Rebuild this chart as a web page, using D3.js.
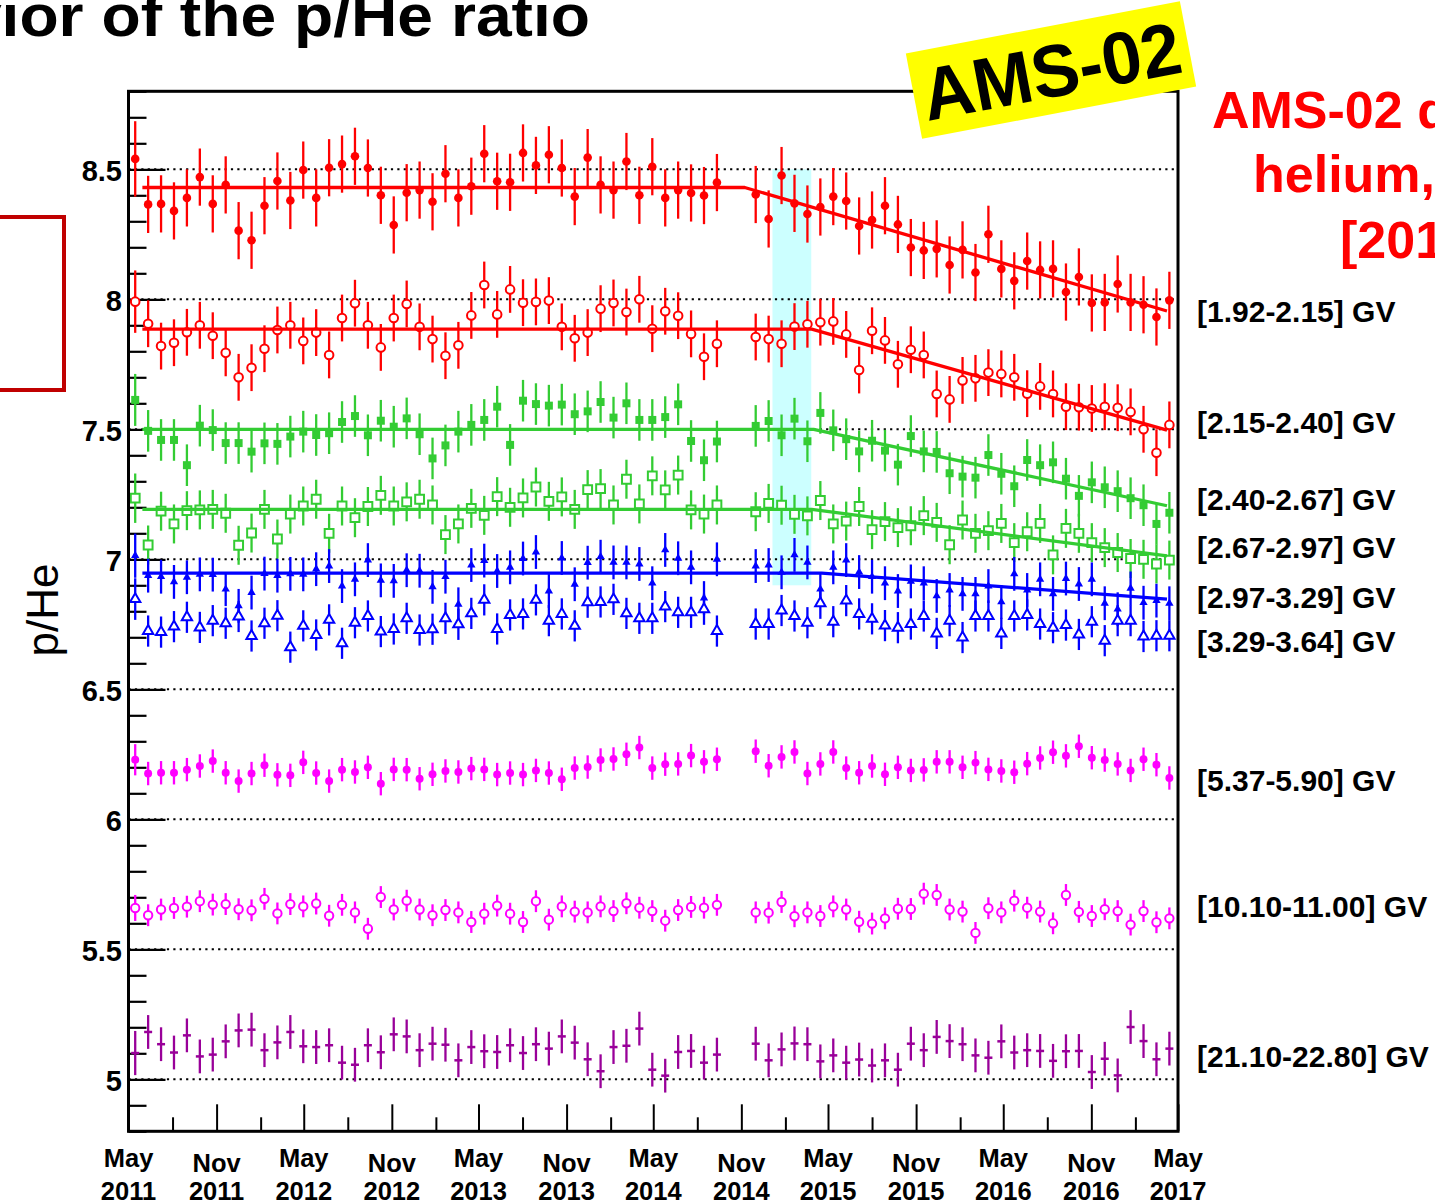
<!DOCTYPE html>
<html>
<head>
<meta charset="utf-8">
<script src="https://cdn.jsdelivr.net/npm/d3@7"></script>
<style>
  body { margin: 0; background: #fff; }
  svg { display: block; }
  text { font-family: "Liberation Sans", Arial, Helvetica, sans-serif; }
</style>
</head>
<body>
<svg id="chart" width="1435" height="1204"></svg>
<script>
// Bartels rotations with measurements (2472 and 2473 are missing)
const bartelsRotations = [
  2426, 2427, 2428, 2429, 2430, 2431, 2432, 2433, 2434, 2435,
  2436, 2437, 2438, 2439, 2440, 2441, 2442, 2443, 2444, 2445,
  2446, 2447, 2448, 2449, 2450, 2451, 2452, 2453, 2454, 2455,
  2456, 2457, 2458, 2459, 2460, 2461, 2462, 2463, 2464, 2465,
  2466, 2467, 2468, 2469, 2470, 2471,
  2474, 2475, 2476, 2477, 2478, 2479, 2480, 2481, 2482, 2483,
  2484, 2485, 2486, 2487, 2488, 2489, 2490, 2491, 2492, 2493,
  2494, 2495, 2496, 2497, 2498, 2499, 2500, 2501, 2502, 2503,
  2504, 2505, 2506
];

const rigidityBins = [
  "[1.92-2.15] GV", "[2.15-2.40] GV", "[2.40-2.67] GV", "[2.67-2.97] GV",
  "[2.97-3.29] GV", "[3.29-3.64] GV", "[5.37-5.90] GV", "[10.10-11.00] GV",
  "[21.10-22.80] GV"
];

// p/He ratio per Bartels rotation, one array per rigidity bin
const pHe_1_92 = [
  8.54, 8.365, 8.367, 8.34, 8.39, 8.47, 8.367, 8.44, 8.264, 8.227,
  8.36, 8.455, 8.38, 8.497, 8.39, 8.506, 8.52, 8.55, 8.505, 8.40,
  8.286, 8.41, 8.42, 8.375, 8.483, 8.39, 8.435, 8.56, 8.454, 8.45,
  8.563, 8.515, 8.556, 8.505, 8.395, 8.545, 8.44, 8.42, 8.53, 8.40,
  8.51, 8.39, 8.42, 8.409, 8.399, 8.449,
  8.403, 8.309, 8.476, 8.369, 8.328, 8.355, 8.395, 8.378, 8.282, 8.305,
  8.36, 8.288, 8.199, 8.188, 8.194, 8.132, 8.19, 8.103, 8.25, 8.117,
  8.071, 8.147, 8.113, 8.117, 8.028, 8.086, 7.986, 7.988, 8.059, 7.988,
  7.979, 7.932, 7.996
];
const pHe_2_15 = [
  7.991, 7.906, 7.82, 7.833, 7.873, 7.90, 7.86, 7.794, 7.70, 7.737,
  7.81, 7.882, 7.90, 7.84, 7.872, 7.786, 7.928, 7.985, 7.90, 7.815,
  7.928, 7.982, 7.894, 7.847, 7.783, 7.823, 7.938, 8.055, 7.942, 8.038,
  7.987, 7.99, 7.995, 7.894, 7.85, 7.872, 7.964, 7.986, 7.951, 8.0,
  7.887, 7.954, 7.937, 7.867, 7.779, 7.829,
  7.855, 7.847, 7.829, 7.895, 7.904, 7.912, 7.915, 7.865, 7.728, 7.879,
  7.842, 7.75, 7.806, 7.786, 7.636, 7.615, 7.688, 7.696, 7.718, 7.713,
  7.70, 7.637, 7.665, 7.636, 7.587, 7.585, 7.58, 7.587, 7.583, 7.567,
  7.50, 7.41, 7.517
];
const pHe_2_40 = [
  7.613, 7.494, 7.459, 7.459, 7.362, 7.514, 7.497, 7.447, 7.447, 7.414,
  7.446, 7.444, 7.472, 7.491, 7.478, 7.485, 7.528, 7.551, 7.477, 7.533,
  7.51, 7.542, 7.481, 7.388, 7.438, 7.491, 7.517, 7.536, 7.587, 7.44,
  7.61, 7.597, 7.591, 7.595, 7.558, 7.569, 7.605, 7.545, 7.60, 7.536,
  7.536, 7.547, 7.596, 7.455, 7.381, 7.453,
  7.513, 7.532, 7.477, 7.541, 7.454, 7.563, 7.496, 7.462, 7.415, 7.456,
  7.418, 7.364, 7.474, 7.415, 7.413, 7.331, 7.318, 7.314, 7.401, 7.329,
  7.281, 7.382, 7.362, 7.373, 7.31, 7.244, 7.296, 7.277, 7.262, 7.235,
  7.208, 7.136, 7.179
];
const pHe_2_67 = [
  7.235, 7.055, 7.185, 7.136, 7.187, 7.19, 7.192, 7.177, 7.054, 7.101,
  7.192, 7.078, 7.174, 7.205, 7.231, 7.10, 7.205, 7.16, 7.203, 7.246,
  7.205, 7.221, 7.231, 7.209, 7.095, 7.136, 7.196, 7.169, 7.241, 7.20,
  7.236, 7.278, 7.223, 7.24, 7.192, 7.268, 7.272, 7.209, 7.308, 7.213,
  7.321, 7.267, 7.324, 7.19, 7.174, 7.209,
  7.183, 7.215, 7.208, 7.173, 7.167, 7.226, 7.136, 7.147, 7.203, 7.114,
  7.145, 7.122, 7.129, 7.168, 7.142, 7.056, 7.151, 7.10, 7.11, 7.138,
  7.064, 7.106, 7.138, 7.017, 7.119, 7.10, 7.064, 7.045, 7.026, 7.003,
  7.0, 6.982, 6.997
];
const pHe_2_97 = [
  7.014, 6.937, 6.933, 6.913, 6.931, 6.942, 6.941, 6.885, 6.821, 6.872,
  6.945, 6.937, 6.944, 6.942, 6.962, 6.974, 6.897, 6.923, 6.997, 6.919,
  6.917, 6.958, 6.956, 6.894, 6.933, 6.827, 6.978, 6.995, 6.955, 6.969,
  7.003, 7.028, 6.878, 7.005, 6.904, 6.987, 7.01, 6.988, 6.988, 6.982,
  6.908, 7.036, 7.004, 6.969, 6.851, 7.0,
  6.974, 6.978, 6.95, 7.017, 6.988, 6.885, 6.969, 6.997, 6.951, 6.933,
  6.908, 6.878, 6.915, 6.908, 6.859, 6.882, 6.867, 6.867, 6.897, 6.836,
  6.944, 6.882, 6.923, 6.867, 6.926, 6.905, 6.923, 6.831, 6.808, 6.888,
  6.833, 6.841, 6.831
];
const pHe_3_29 = [
  6.847, 6.724, 6.72, 6.741, 6.777, 6.738, 6.764, 6.754, 6.78, 6.705,
  6.754, 6.783, 6.662, 6.744, 6.709, 6.767, 6.677, 6.756, 6.782, 6.722,
  6.732, 6.773, 6.728, 6.731, 6.773, 6.75, 6.792, 6.844, 6.732, 6.786,
  6.79, 6.844, 6.764, 6.79, 6.744, 6.835, 6.836, 6.846, 6.792, 6.773,
  6.773, 6.818, 6.796, 6.796, 6.808, 6.724,
  6.751, 6.751, 6.803, 6.782, 6.756, 6.831, 6.76, 6.841, 6.79, 6.771,
  6.745, 6.737, 6.751, 6.782, 6.715, 6.764, 6.699, 6.782, 6.782, 6.715,
  6.782, 6.786, 6.751, 6.737, 6.747, 6.711, 6.76, 6.687, 6.764, 6.764,
  6.703, 6.706, 6.706
];
const pHe_5_37 = [
  6.229, 6.176, 6.179, 6.179, 6.191, 6.205, 6.224, 6.179, 6.147, 6.176,
  6.208, 6.171, 6.169, 6.219, 6.178, 6.147, 6.191, 6.182, 6.20, 6.137,
  6.192, 6.191, 6.156, 6.173, 6.186, 6.182, 6.195, 6.192, 6.172, 6.178,
  6.172, 6.188, 6.178, 6.154, 6.197, 6.201, 6.228, 6.232, 6.25, 6.276,
  6.197, 6.212, 6.213, 6.245, 6.221, 6.231,
  6.262, 6.206, 6.24, 6.259, 6.176, 6.213, 6.259, 6.197, 6.179, 6.205,
  6.173, 6.20, 6.188, 6.19, 6.221, 6.221, 6.20, 6.218, 6.192, 6.186,
  6.181, 6.214, 6.236, 6.258, 6.244, 6.281, 6.237, 6.228, 6.213, 6.188,
  6.231, 6.21, 6.159
];
const pHe_10_10 = [
  5.659, 5.631, 5.653, 5.659, 5.664, 5.685, 5.672, 5.674, 5.654, 5.65,
  5.694, 5.638, 5.674, 5.665, 5.676, 5.629, 5.671, 5.642, 5.579, 5.701,
  5.653, 5.687, 5.653, 5.631, 5.651, 5.642, 5.605, 5.637, 5.668, 5.637,
  5.605, 5.685, 5.614, 5.665, 5.645, 5.642, 5.665, 5.647, 5.677, 5.66,
  5.647, 5.61, 5.651, 5.663, 5.66, 5.671,
  5.642, 5.641, 5.682, 5.627, 5.642, 5.628, 5.665, 5.653, 5.606, 5.599,
  5.619, 5.656, 5.655, 5.714, 5.709, 5.653, 5.645, 5.563, 5.658, 5.642,
  5.687, 5.66, 5.645, 5.60, 5.709, 5.644, 5.628, 5.654, 5.647, 5.595,
  5.647, 5.604, 5.619
];
const pHe_21_10 = [
  5.101, 5.182, 5.135, 5.103, 5.169, 5.088, 5.095, 5.146, 5.188, 5.191,
  5.112, 5.142, 5.182, 5.127, 5.124, 5.131, 5.064, 5.056, 5.131, 5.104,
  5.173, 5.165, 5.112, 5.137, 5.133, 5.073, 5.124, 5.108, 5.105, 5.131,
  5.101, 5.135, 5.118, 5.165, 5.141, 5.077, 5.031, 5.124, 5.129, 5.195,
  5.037, 5.014, 5.105, 5.109, 5.064, 5.095,
  5.137, 5.073, 5.115, 5.138, 5.135, 5.069, 5.092, 5.064, 5.076, 5.053,
  5.073, 5.037, 5.137, 5.112, 5.163, 5.147, 5.135, 5.092, 5.083, 5.146,
  5.103, 5.112, 5.109, 5.071, 5.108, 5.109, 5.028, 5.079, 5.015, 5.201,
  5.147, 5.077, 5.118
];

// Half-width of the error bars: first rotation, then all later rotations
const firstRotationErrors = [0.145, 0.12, 0.10, 0.095, 0.085, 0.08, 0.06, 0.05, 0.085];
const typicalErrors       = [0.11, 0.09, 0.08, 0.075, 0.065, 0.06, 0.045, 0.042, 0.065];

// Fits for the five lowest bins: plateau, start of the decrease, final value
const fitPlateau    = [8.43, 7.885, 7.50, 7.192, 6.947];
const fitBreakDates = ["2014-11-08", "2015-03-28", "2015-04-01", "2015-03-28", "2015-04-18"];
const fitEndValues  = [7.955, 7.497, 7.206, 7.013, 6.847];
const fitRange      = ["2011-05-30", "2017-04-08"];

// Highlighted period and its p/He extent
const bandDates  = ["2015-01-05", "2015-03-27"];
const bandValues = [6.9, 8.5];

// Axis ranges and ticks
const timeDomain = ["2011-05-01", "2017-05-01"];
const yDomain = [4.8, 8.8];
const yMajorTicks = [5, 5.5, 6, 6.5, 7, 7.5, 8, 8.5];

const seriesValues = [pHe_1_92, pHe_2_15, pHe_2_40, pHe_2_67, pHe_2_97, pHe_3_29, pHe_5_37, pHe_10_10, pHe_21_10];

// ---------------------------------------------------------------- drawing
const parseDate = d3.utcParse("%Y-%m-%d");
const bartelsStart = n => new Date(Date.UTC(1832, 1, 8) + (n - 1) * 27 * 864e5);

const frame = { left: 128.5, right: 1178, top: 91.3, bottom: 1131.3 };
const svg = d3.select("#chart");
svg.append("rect").attr("width", 1435).attr("height", 1204).attr("fill", "#fff");

const x = d3.scaleUtc().domain(timeDomain.map(parseDate)).range([frame.left, frame.right]);
const y = d3.scaleLinear().domain(yDomain).range([frame.bottom, frame.top]);

const styles = [
  { color: "#ff0000", shape: d3.symbolCircle,   size: 58, open: false },
  { color: "#ff0000", shape: d3.symbolCircle,   size: 58, open: true },
  { color: "#33cc33", shape: d3.symbolSquare,   size: 64, open: false },
  { color: "#33cc33", shape: d3.symbolSquare,   size: 78, open: true },
  { color: "#0000ff", shape: d3.symbolTriangle, size: 30, open: false },
  { color: "#0000ff", shape: d3.symbolTriangle, size: 46, open: true },
  { color: "#ff00ff", shape: d3.symbolCircle,   size: 50, open: false },
  { color: "#ff00ff", shape: d3.symbolCircle,   size: 55, open: true },
  { color: "#990099", shape: null,              size: 0,  open: false }
];

// highlighted period
svg.append("rect")
  .attr("x", x(parseDate(bandDates[0])))
  .attr("y", y(bandValues[1]))
  .attr("width", x(parseDate(bandDates[1])) - x(parseDate(bandDates[0])))
  .attr("height", y(bandValues[0]) - y(bandValues[1]))
  .attr("fill", "#ccffff");

// dotted grid at the labelled values
svg.append("g").selectAll("line").data(yMajorTicks).join("line")
  .attr("x1", frame.left).attr("x2", frame.right)
  .attr("y1", d => y(d)).attr("y2", d => y(d))
  .attr("stroke", "#000").attr("stroke-width", 2)
  .attr("stroke-dasharray", "2.2,4.2");

// y axis ticks (drawn inside the frame)
const yMinor = d3.range(48, 89).map(v => v / 10).filter(v => Math.abs(v * 2 - Math.round(v * 2)) > 1e-6);
const yTicksMajor = svg.append("g").attr("transform", `translate(${frame.left},0)`)
  .call(d3.axisRight(y).tickValues(yMajorTicks).tickSize(37).tickFormat(""));
const yTicksMinor = svg.append("g").attr("transform", `translate(${frame.left},0)`)
  .call(d3.axisRight(y).tickValues(yMinor).tickSize(18).tickFormat(""));
[yTicksMajor, yTicksMinor].forEach(g => {
  g.select(".domain").remove();
  g.selectAll(".tick line").attr("stroke", "#000").attr("stroke-width", 2.2);
});

// y tick labels
const yLabels = svg.append("g").attr("transform", `translate(${frame.left},0)`)
  .call(d3.axisLeft(y).tickValues(yMajorTicks).tickSize(0).tickPadding(6.5).tickFormat(d3.format("")));
yLabels.select(".domain").remove();
yLabels.selectAll(".tick text")
  .attr("font-family", "'Liberation Sans', Arial, sans-serif")
  .attr("font-size", 29).attr("font-weight", "bold").attr("fill", "#000")
  .attr("dy", "0.4em");

// x axis ticks (every six months, minor every three)
const months = d3.utcMonths(parseDate(timeDomain[0]), d3.utcDay.offset(parseDate(timeDomain[1]), 1));
const xMajor = months.filter((d, i) => i % 6 === 0);
const xMinor = months.filter((d, i) => i % 3 === 0 && i % 6 !== 0);
const xTicksMajor = svg.append("g").attr("transform", `translate(0,${frame.bottom})`)
  .call(d3.axisTop(x).tickValues(xMajor).tickSize(27).tickFormat(""));
const xTicksMinor = svg.append("g").attr("transform", `translate(0,${frame.bottom})`)
  .call(d3.axisTop(x).tickValues(xMinor).tickSize(14).tickFormat(""));
[xTicksMajor, xTicksMinor].forEach(g => {
  g.select(".domain").remove();
  g.selectAll(".tick line").attr("stroke", "#000").attr("stroke-width", 2);
});

// two-line date labels
const fmtMonth = d3.utcFormat("%b"), fmtYear = d3.utcFormat("%Y");
const xLab = svg.append("g").selectAll("g").data(xMajor).join("g")
  .attr("transform", d => `translate(${x(d)},0)`);
xLab.append("text")
  .attr("y", d => fmtMonth(d) === "May" ? 1167 : 1172)
  .attr("text-anchor", "middle").attr("font-size", 25.5).attr("font-weight", "bold")
  .text(d => fmtMonth(d));
xLab.append("text")
  .attr("y", 1200)
  .attr("text-anchor", "middle").attr("font-size", 25.5).attr("font-weight", "bold")
  .text(d => fmtYear(d));

// data points with error bars
const xs = bartelsRotations.map(bartelsStart);
seriesValues.forEach((vals, s) => {
  const st = styles[s];
  const pts = vals.map((v, i) => ({
    t: xs[i], v,
    e: i === 0 ? firstRotationErrors[s] : typicalErrors[s]
  }));
  const g = svg.append("g");
  g.selectAll("line.err").data(pts).join("line").attr("class", "err")
    .attr("x1", d => x(d.t)).attr("x2", d => x(d.t))
    .attr("y1", d => y(d.v - d.e)).attr("y2", d => y(d.v + d.e))
    .attr("stroke", st.color).attr("stroke-width", 2.3);
  if (st.shape) {
    g.selectAll("path.mk").data(pts).join("path").attr("class", "mk")
      .attr("transform", d => `translate(${x(d.t)},${y(d.v)})`)
      .attr("d", d3.symbol(st.shape, st.size))
      .attr("fill", st.open ? "#fff" : st.color)
      .attr("stroke", st.open ? st.color : "none")
      .attr("stroke-width", 2);
  } else {
    g.selectAll("line.mk").data(pts).join("line").attr("class", "mk")
      .attr("x1", d => x(d.t) - 4).attr("x2", d => x(d.t) + 4)
      .attr("y1", d => y(d.v)).attr("y2", d => y(d.v))
      .attr("stroke", st.color).attr("stroke-width", 2.5);
  }
});

// fitted trends, one per low-rigidity bin
const fitLine = d3.line().x(d => x(d[0])).y(d => y(d[1]));
fitPlateau.forEach((lvl, k) => {
  const pts = [
    [parseDate(fitRange[0]), lvl],
    [parseDate(fitBreakDates[k]), lvl],
    [parseDate(fitRange[1]), fitEndValues[k]]
  ];
  svg.append("path").datum(pts)
    .attr("d", fitLine)
    .attr("fill", "none")
    .attr("stroke", styles[k].color)
    .attr("stroke-width", 3.3)
    .attr("stroke-linejoin", "round");
});

// frame
svg.append("rect")
  .attr("x", frame.left).attr("y", frame.top)
  .attr("width", frame.right - frame.left).attr("height", frame.bottom - frame.top)
  .attr("fill", "none").attr("stroke", "#000").attr("stroke-width", 3);

// rigidity bin labels
const labelBaselines = [322, 433, 510, 558, 608, 652, 791, 917, 1067];
svg.append("g").selectAll("text").data(rigidityBins).join("text")
  .attr("x", 1197).attr("y", (d, i) => labelBaselines[i])
  .attr("font-size", 30).attr("font-weight", "bold").attr("fill", "#000")
  .text(d => d);

// y axis title
svg.append("text")
  .attr("transform", "translate(58,610) rotate(-90)")
  .attr("text-anchor", "middle").attr("font-size", 44).attr("fill", "#000")
  .text("p/He");

// heading
svg.append("text")
  .attr("transform", "translate(590,36) scale(1.07,1)")
  .attr("text-anchor", "end")
  .attr("font-size", 60).attr("font-weight", "bold").attr("fill", "#000")
  .text("Time behavior of the p/He ratio");

// side caption
const caption = [
  { text: "AMS-02 data", x: 1212, y: 128 },
  { text: "helium,", x: 1253, y: 192 },
  { text: "[2011-2017]", x: 1340, y: 258 }
];
svg.append("g").selectAll("text").data(caption).join("text")
  .attr("x", d => d.x).attr("y", d => d.y)
  .attr("font-size", 52).attr("font-weight", "bold").attr("fill", "#ff0000")
  .text(d => d.text);

// outlined box on the left
svg.append("rect")
  .attr("x", -10).attr("y", 217).attr("width", 74).attr("height", 173)
  .attr("fill", "none").attr("stroke", "#c00000").attr("stroke-width", 4);

// experiment tag
const tag = svg.append("g").attr("transform", "translate(1051,70) rotate(-10.8)");
tag.append("rect")
  .attr("x", -139.5).attr("y", -43.5).attr("width", 279).attr("height", 87)
  .attr("fill", "#ffff00");
tag.append("text")
  .attr("x", 0).attr("y", 27).attr("text-anchor", "middle")
  .attr("font-size", 74).attr("font-weight", "bold").attr("fill", "#000")
  .attr("textLength", 262).attr("lengthAdjust", "spacingAndGlyphs")
  .text("AMS-02");
</script>
</body>
</html>
